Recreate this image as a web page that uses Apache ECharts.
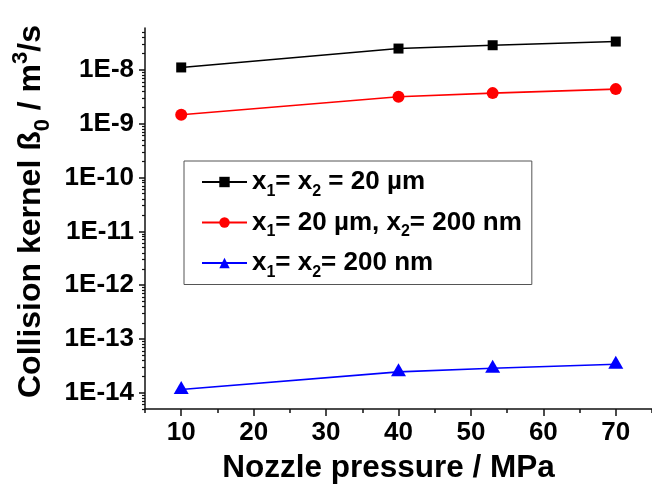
<!DOCTYPE html>
<html>
<head>
<meta charset="utf-8">
<script src="https://cdn.jsdelivr.net/npm/echarts@6/dist/echarts.min.js"></script>
<style>
  html, body { margin: 0; padding: 0; background: #fff; }
  #chart { width: 652px; height: 489px; }
</style>
</head>
<body>
<div id="chart"></div>
<script>
// Nozzle pressure (MPa) at which the collision kernel was evaluated
const pressures = [10, 40, 53, 70];

// Collision kernel ß0 (m^3/s) for the three particle-size pairings
const kernelMicroMicro = [1.11e-8, 2.49e-8, 2.87e-8, 3.36e-8];
const kernelMicroNano  = [1.47e-9, 3.16e-9, 3.70e-9, 4.39e-9];
const kernelNanoNano   = [1.15e-14, 2.45e-14, 2.85e-14, 3.40e-14];

const seriesNames = ['x1= x2 = 20 µm', 'x1= 20 µm, x2= 200 nm', 'x1= x2= 200 nm'];
const legendLabels = [
  'x{s|1}= x{s|2} = 20 µm',
  'x{s|1}= 20 µm, x{s|2}= 200 nm',
  'x{s|1}= x{s|2}= 200 nm'
];

// Axis ticks
const xTickValues = [10, 20, 30, 40, 50, 60, 70];
const xMinorTickValues = [5, 15, 25, 35, 45, 55, 65, 75];
const yDecades = [1e-15, 1e-14, 1e-13, 1e-12, 1e-11, 1e-10, 1e-9, 1e-8];
const yTickValues = [1e-14, 1e-13, 1e-12, 1e-11, 1e-10, 1e-9, 1e-8];
const yMin = 5e-15;
const yMax = 6e-8;

// minor log ticks at 2..9 of every decade, kept inside the axis range
const yMinorTickValues = [];
yDecades.forEach(d => {
  for (let k = 2; k <= 9; k++) {
    const v = d * k;
    if (v >= yMin * 0.999 && v <= yMax * 1.001) yMinorTickValues.push(v);
  }
});

const FONT = 'Liberation Sans, Arial, sans-serif';
const AXIS_COLOR = '#111';

function pairs(values) {
  return pressures.map((p, i) => [p, values[i]]);
}

const chart = echarts.init(document.getElementById('chart'), null, { renderer: 'canvas' });

const lineSeries = (name, values, color, symbol, symbolSize, symbolOffset) => ({
  name: name,
  type: 'line',
  xAxisIndex: 0,
  yAxisIndex: 0,
  data: pairs(values),
  symbol: symbol,
  symbolSize: symbolSize,
  symbolOffset: symbolOffset || [0, 0],
  showSymbol: true,
  lineStyle: { color: color, width: 1.6 },
  itemStyle: { color: color },
  emphasis: { disabled: true },
  z: 3
});

chart.setOption({
  animation: false,
  backgroundColor: '#fff',
  grid: { left: 145, top: 28, right: -11, bottom: 79, containLabel: false },
  xAxis: [
    {
      type: 'value',
      min: 5,
      max: 75,
      position: 'bottom',
      axisLine: { show: true, onZero: false, lineStyle: { color: AXIS_COLOR, width: 1.5 } },
      axisTick: { show: true, customValues: xTickValues, length: 7, lineStyle: { color: AXIS_COLOR, width: 1.5 } },
      axisLabel: {
        customValues: xTickValues,
        margin: 11,
        color: '#000',
        fontSize: 26,
        fontWeight: 'bold',
        fontFamily: FONT
      },
      splitLine: { show: false },
      name: 'Nozzle pressure / MPa',
      nameLocation: 'middle',
      nameGap: 43,
      nameTextStyle: {
        color: '#000',
        fontSize: 31.5,
        fontWeight: 'bold',
        fontFamily: FONT,
        padding: [0, 20, 0, 0]
      }
    },
    {
      type: 'value',
      min: 5,
      max: 75,
      position: 'bottom',
      offset: 0,
      axisLine: { show: false, onZero: false },
      axisTick: { show: true, customValues: xMinorTickValues, length: 4, lineStyle: { color: AXIS_COLOR, width: 1.5 } },
      axisLabel: { show: false },
      splitLine: { show: false }
    }
  ],
  yAxis: [
    {
      type: 'log',
      logBase: 10,
      min: yMin,
      max: yMax,
      position: 'left',
      axisLine: { show: true, onZero: false, lineStyle: { color: AXIS_COLOR, width: 1.5 } },
      axisTick: { show: true, customValues: yTickValues, length: 6, lineStyle: { color: AXIS_COLOR, width: 1.5 } },
      axisLabel: {
        customValues: yTickValues,
        margin: 11,
        color: '#000',
        fontSize: 26,
        fontWeight: 'bold',
        fontFamily: FONT,
        formatter: v => '1E' + Math.round(Math.log10(v))
      },
      splitLine: { show: false },
      name: 'Collision kernel ß{sub|0} / m{sup|3}/s',
      nameLocation: 'middle',
      nameGap: 90,
      nameTextStyle: {
        color: '#000',
        fontSize: 32,
        fontWeight: 'bold',
        fontFamily: FONT,
        padding: [0, 0, 0, 14],
        rich: {
          sub: { fontSize: 22, fontWeight: 'bold', fontFamily: FONT, color: '#000', padding: [24, 0, 0, 0] },
          sup: { fontSize: 22, fontWeight: 'bold', fontFamily: FONT, color: '#000', padding: [0, 0, 20, 0] }
        }
      }
    },
    {
      type: 'log',
      logBase: 10,
      min: yMin,
      max: yMax,
      position: 'left',
      offset: 0,
      axisLine: { show: false, onZero: false },
      axisTick: { show: true, customValues: yMinorTickValues, length: 3, lineStyle: { color: AXIS_COLOR, width: 1.2 } },
      axisLabel: { show: false },
      splitLine: { show: false }
    }
  ],
  legend: {
    data: seriesNames,
    orient: 'vertical',
    left: 184,
    top: 161,
    padding: [6, 10, 4, 17],
    itemGap: 8,
    itemWidth: 45,
    itemHeight: 13,
    borderColor: '#555',
    borderWidth: 1,
    borderRadius: 0,
    selectedMode: false,
    formatter: name => legendLabels[seriesNames.indexOf(name)],
    textStyle: {
      color: '#000',
      fontSize: 26,
      fontWeight: 'bold',
      fontFamily: FONT,
      lineHeight: 30,
      rich: {
        s: { fontSize: 16, fontWeight: 'bold', fontFamily: FONT, color: '#000', padding: [19, 0, 0, 0] }
      }
    }
  },
  series: [
    lineSeries(seriesNames[0], kernelMicroMicro, '#000000', 'rect', 10),
    lineSeries(seriesNames[1], kernelMicroNano, '#ff0000', 'circle', 12),
    lineSeries(seriesNames[2], kernelNanoNano, '#0000ff', 'triangle', [15, 13], [0, -2])
  ]
});
</script>
</body>
</html>
